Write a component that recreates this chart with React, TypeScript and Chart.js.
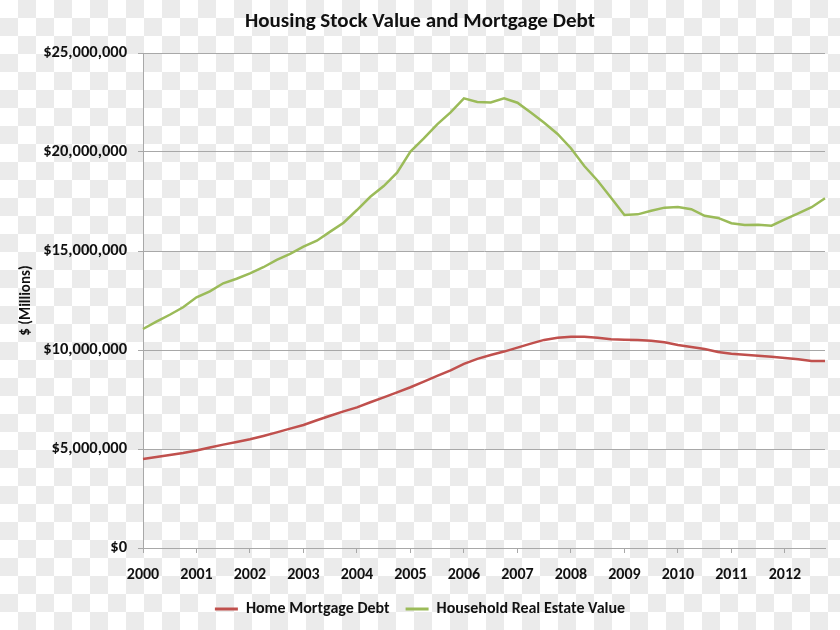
import React, { useEffect, useRef } from "react";
import { Chart, registerables } from "chart.js";

Chart.register(...registerables);

const years = ["2000", "2001", "2002", "2003", "2004", "2005", "2006", "2007", "2008", "2009", "2010", "2011", "2012"];
const quarters = ["Q1", "Q2", "Q3", "Q4"];

// $ millions, quarterly 2000 Q1 – 2012 Q4
const homeMortgageDebt = [
  4490000, 4600000, 4700000, 4800000,
  4920000, 5080000, 5220000, 5350000,
  5490000, 5660000, 5840000, 6030000,
  6210000, 6450000, 6680000, 6900000,
  7100000, 7360000, 7610000, 7860000,
  8120000, 8400000, 8690000, 8970000,
  9300000, 9550000, 9750000, 9920000,
  10120000, 10320000, 10510000, 10620000,
  10670000, 10670000, 10620000, 10540000,
  10520000, 10510000, 10470000, 10390000,
  10250000, 10150000, 10050000, 9900000,
  9810000, 9760000, 9710000, 9660000,
  9600000, 9530000, 9440000, 9440000,
];

const householdRealEstateValue = [
  11060000, 11430000, 11780000, 12160000,
  12660000, 12960000, 13370000, 13600000,
  13870000, 14180000, 14550000, 14850000,
  15220000, 15520000, 15980000, 16430000,
  17070000, 17740000, 18280000, 18960000,
  20020000, 20690000, 21400000, 22000000,
  22710000, 22530000, 22500000, 22710000,
  22490000, 21990000, 21480000, 20910000,
  20190000, 19290000, 18550000, 17690000,
  16820000, 16850000, 17030000, 17190000,
  17220000, 17110000, 16780000, 16670000,
  16400000, 16310000, 16330000, 16280000,
  16600000, 16900000, 17210000, 17660000,
];

const FONT = "Carlito, Lato, 'Liberation Sans', sans-serif";
const TEXT = "#111111";
const GRID = "#a8a8a8";

export default function App() {
  const canvasRef = useRef<HTMLCanvasElement | null>(null);

  useEffect(() => {
    document.body.style.margin = "0";
    const labels = years.flatMap((y) => quarters.map((q) => `${y} ${q}`));
    const chart = new Chart(canvasRef.current as HTMLCanvasElement, {
      type: "line",
      data: {
        labels,
        datasets: [
          {
            label: "Home Mortgage Debt",
            data: homeMortgageDebt,
            borderColor: "#c0504d",
            backgroundColor: "#c0504d",
            borderWidth: 2.5,
            pointRadius: 0,
            tension: 0,
          },
          {
            label: "Household Real Estate Value",
            data: householdRealEstateValue,
            borderColor: "#9bbb59",
            backgroundColor: "#9bbb59",
            borderWidth: 2.5,
            pointRadius: 0,
            tension: 0,
          },
        ],
      },
      options: {
        responsive: false,
        animation: false,
        layout: { padding: { left: 15, right: 15, top: 0, bottom: 3 } },
        plugins: {
          title: {
            display: true,
            text: "Housing Stock Value and Mortgage Debt",
            color: TEXT,
            font: { family: FONT, size: 21, weight: "bold" },
            padding: { top: 9.5, bottom: 18.3 },
          },
          legend: {
            position: "bottom",
            labels: {
              color: TEXT,
              font: { family: FONT, size: 16, weight: "bold" },
              boxWidth: 23,
              boxHeight: 3,
              padding: 16,
              generateLabels: (c: any) =>
                Chart.defaults.plugins.legend.labels.generateLabels(c).map((l: any) => ({ ...l, lineWidth: 0 })),
            },
          },
          tooltip: { enabled: false },
        },
        scales: {
          x: {
            type: "category",
            offset: false,
            afterFit: (s: any) => {
              s.height = 37;
            },
            grid: {
              drawOnChartArea: false,
              drawTicks: true,
              tickLength: 5,
              color: (ctx: any) => (ctx.index % 4 === 0 ? GRID : "rgba(0,0,0,0)"),
            },
            border: { color: GRID },
            ticks: {
              autoSkip: false,
              maxRotation: 0,
              padding: 12,
              color: TEXT,
              font: { family: FONT, size: 16, weight: "bold" },
              callback: (_v: any, i: number) => (i % 4 === 0 ? years[i / 4] : ""),
            },
          },
          y: {
            min: 0,
            max: 25000000,
            afterFit: (s: any) => {
              s.width = 128;
            },
            grid: { color: GRID, tickLength: 5 },
            border: { color: GRID },
            ticks: {
              stepSize: 5000000,
              padding: 11,
              color: TEXT,
              font: { family: FONT, size: 16.5, weight: "bold" },
              callback: (v: any) => "$" + Number(v).toLocaleString("en-US"),
            },
            title: {
              display: true,
              text: "$ (Millions)",
              color: TEXT,
              font: { family: FONT, size: 15, weight: "bold" },
              padding: { top: 2, bottom: 0 },
            },
          },
        },
      },
    });
    return () => chart.destroy();
  }, []);

  return (
    <div
      style={{
        position: "fixed",
        left: 0,
        top: 0,
        width: 840,
        height: 630,
        backgroundColor: "#ffffff",
        backgroundImage:
          "conic-gradient(#ebebeb 0 25%, #ffffff 0 50%, #ebebeb 0 75%, #ffffff 0)",
        backgroundSize: "36px 36px",
      }}
    >
      <canvas ref={canvasRef} width={840} height={630} style={{ display: "block" }} />
    </div>
  );
}
